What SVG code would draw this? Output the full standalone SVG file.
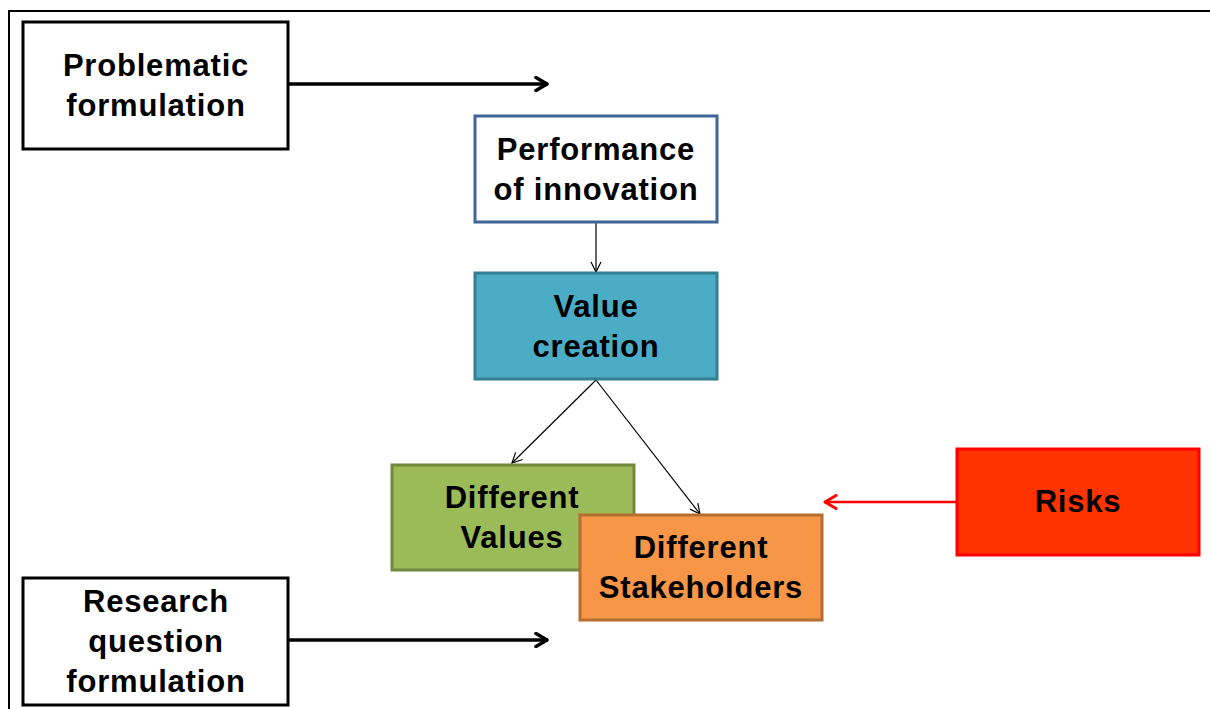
<svg xmlns="http://www.w3.org/2000/svg" width="1210" height="709" viewBox="0 0 1210 709">
<defs>
<style>
.t{font-family:"Liberation Sans",Arial,sans-serif;font-weight:bold;font-size:31px;letter-spacing:0.8px;fill:#000;text-anchor:middle}
.thin{stroke:#000;stroke-width:1.2;fill:none}
.thick{stroke:#000;stroke-width:3.5;fill:none}
</style>
<marker id="open" viewBox="0 0 12 12" refX="11" refY="6" markerWidth="12" markerHeight="12" markerUnits="userSpaceOnUse" orient="auto">
<path d="M1,1 L11,6 L1,11" fill="none" stroke="#000" stroke-width="1.2"/>
</marker>
<marker id="openBig" viewBox="0 0 16 16" refX="15" refY="8" markerWidth="16" markerHeight="16" markerUnits="userSpaceOnUse" orient="auto">
<path d="M3,1.5 L14,8 L3,14.5" fill="none" stroke="#000" stroke-width="3.5" stroke-linecap="round" stroke-linejoin="round"/>
</marker>
<marker id="openRed" viewBox="0 0 16 16" refX="15" refY="8" markerWidth="16" markerHeight="16" markerUnits="userSpaceOnUse" orient="auto">
<path d="M3,1.5 L14,8 L3,14.5" fill="none" stroke="#ff0000" stroke-width="3" stroke-linecap="round" stroke-linejoin="round"/>
</marker>
</defs>
<rect width="1210" height="709" fill="#fff"/>
<path d="M9,709 L9,11 L1210,11" fill="none" stroke="#000" stroke-width="2"/>
<g id="connectors">
<line x1="288" y1="84" x2="548" y2="84" class="thick" marker-end="url(#openBig)"/>
<line x1="288" y1="640" x2="548" y2="640" class="thick" marker-end="url(#openBig)"/>
<line x1="596" y1="222" x2="596" y2="272" class="thin" marker-end="url(#open)"/>
<line x1="596" y1="380" x2="512" y2="463" class="thin" marker-end="url(#open)"/>
<line x1="596" y1="380" x2="700" y2="514" class="thin" marker-end="url(#open)"/>
<line x1="957" y1="502" x2="824" y2="502" stroke="#ff0000" stroke-width="2.5" fill="none" marker-end="url(#openRed)"/>
</g>
<g id="problematic">
<rect x="23" y="22" width="265" height="127" fill="#fff" stroke="#000" stroke-width="3"/>
<text class="t" x="156" y="76">Problematic</text>
<text class="t" x="156" y="116">formulation</text>
</g>
<g id="performance">
<rect x="475" y="116" width="242" height="106" fill="#fff" stroke="#3f6496" stroke-width="3"/>
<text class="t" x="596" y="160">Performance</text>
<text class="t" x="596" y="200">of innovation</text>
</g>
<g id="value-creation">
<rect x="475" y="273" width="242" height="106" fill="#4bacc6" stroke="#357f93" stroke-width="3"/>
<text class="t" x="596" y="317">Value</text>
<text class="t" x="596" y="357">creation</text>
</g>
<g id="different-values">
<rect x="392" y="465" width="242" height="105" fill="#9bbb59" stroke="#71893f" stroke-width="3"/>
<text class="t" x="512" y="508">Different</text>
<text class="t" x="512" y="548">Values</text>
</g>
<g id="different-stakeholders">
<rect x="580" y="515" width="242" height="105" fill="#f79646" stroke="#b66d31" stroke-width="3"/>
<text class="t" x="701" y="558">Different</text>
<text class="t" x="701" y="598">Stakeholders</text>
</g>
<g id="risks">
<rect x="957" y="449" width="242" height="106" fill="#ff3300" stroke="#ff0000" stroke-width="3"/>
<text class="t" x="1078" y="512">Risks</text>
</g>
<g id="research">
<rect x="23" y="578" width="265" height="127" fill="#fff" stroke="#000" stroke-width="3"/>
<text class="t" x="156" y="612">Research</text>
<text class="t" x="156" y="652">question</text>
<text class="t" x="156" y="692">formulation</text>
</g>
</svg>
